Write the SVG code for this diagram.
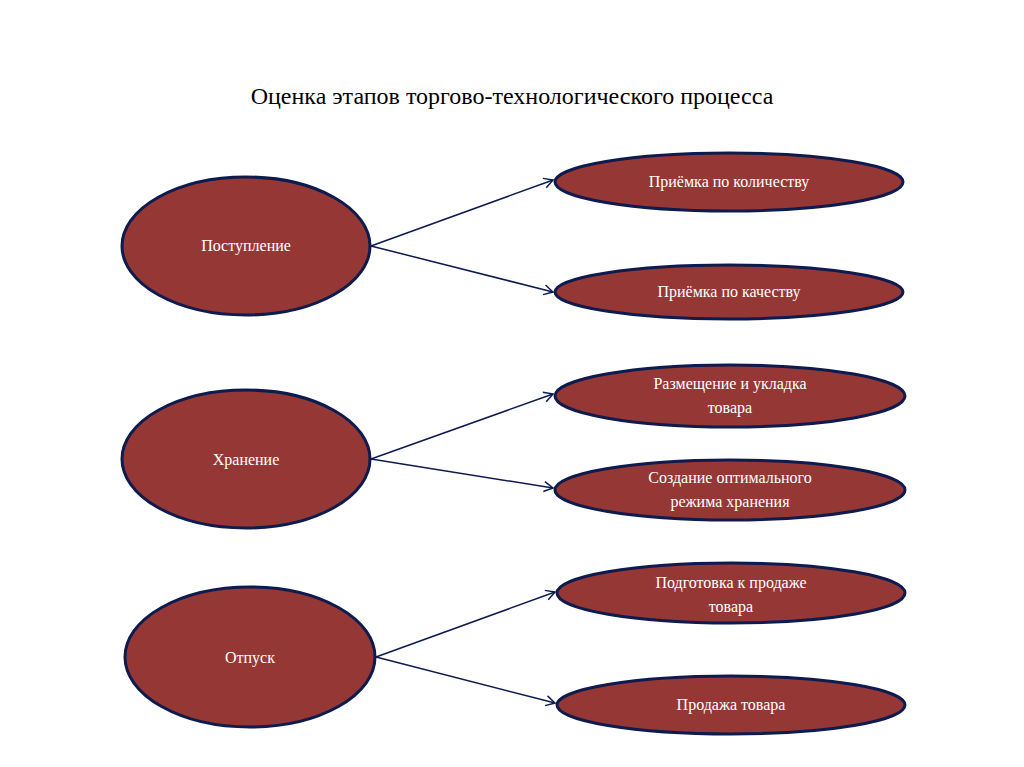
<svg xmlns="http://www.w3.org/2000/svg" width="1024" height="767" viewBox="0 0 1024 767">
<style>
.n{fill:#953735;stroke:#0d1b4f;stroke-width:3}
.t{font-family:"Liberation Serif",serif;font-size:16px;fill:#fff;text-anchor:middle}
.c line{stroke:#0d1b4f;stroke-width:1.5;marker-end:url(#a)}
</style>
<defs><marker id="a" markerWidth="12" markerHeight="12" refX="10" refY="6" orient="auto" markerUnits="userSpaceOnUse"><path d="M1,1 L10,6 L1,11" fill="none" stroke="#0d1b4f" stroke-width="1.5"/></marker></defs>
<rect width="1024" height="767" fill="#fff"/>
<text x="512" y="104" font-family="Liberation Serif,serif" font-size="24" text-anchor="middle" fill="#000">Оценка этапов торгово-технологического процесса</text>
<g class="c">
<line x1="371" y1="246" x2="553" y2="180"/>
<line x1="371" y1="246" x2="553" y2="292"/>
<line x1="371" y1="459" x2="553" y2="394"/>
<line x1="371" y1="459" x2="553" y2="488"/>
<line x1="376" y1="657" x2="555" y2="592"/>
<line x1="376" y1="657" x2="555" y2="703"/>
</g>
<g id="n1"><ellipse class="n" cx="246" cy="246" rx="124" ry="69"/><text class="t" x="246" y="251">Поступление</text></g>
<g id="n2"><ellipse class="n" cx="246" cy="459" rx="124" ry="69"/><text class="t" x="246" y="465">Хранение</text></g>
<g id="n3"><ellipse class="n" cx="250" cy="657" rx="125" ry="70"/><text class="t" x="250" y="663">Отпуск</text></g>
<g id="r1"><ellipse class="n" cx="729" cy="182" rx="174" ry="29"/><text class="t" x="729" y="187">Приёмка по количеству</text></g>
<g id="r2"><ellipse class="n" cx="729" cy="292" rx="174" ry="27"/><text class="t" x="729" y="297">Приёмка по качеству</text></g>
<g id="r3"><ellipse class="n" cx="730" cy="396" rx="175" ry="31"/><text class="t" x="730" y="389">Размещение и укладка</text><text class="t" x="730" y="413">товара</text></g>
<g id="r4"><ellipse class="n" cx="730" cy="490" rx="175" ry="30"/><text class="t" x="730" y="483">Создание оптимального</text><text class="t" x="730" y="507">режима хранения</text></g>
<g id="r5"><ellipse class="n" cx="731" cy="593" rx="174" ry="30"/><text class="t" x="731" y="588">Подготовка к продаже</text><text class="t" x="731" y="612">товара</text></g>
<g id="r6"><ellipse class="n" cx="731" cy="705" rx="174" ry="29"/><text class="t" x="731" y="710">Продажа товара</text></g>
</svg>
